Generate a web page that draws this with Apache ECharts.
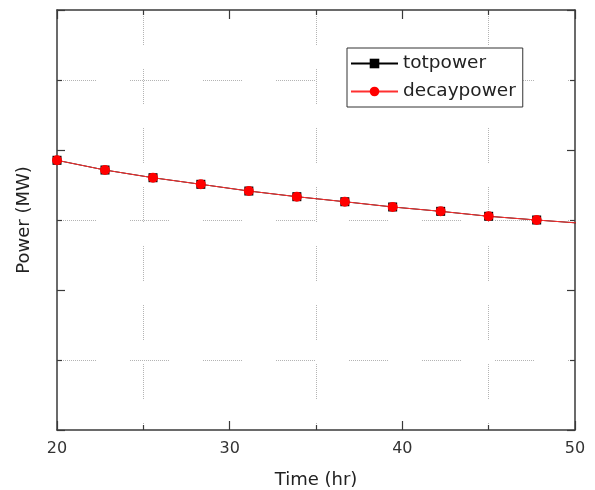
<!DOCTYPE html>
<html>
<head>
<meta charset="utf-8">
<script src="https://cdn.jsdelivr.net/npm/echarts@6/dist/echarts.min.js"></script>
<style>
html,body{margin:0;padding:0;background:#fff;}
#main{width:595px;height:490px;}
</style>
</head>
<body>
<div id="main"></div>
<script>
// ---- data ----
var timeHr = [20, 22.78, 25.56, 28.33, 31.11, 33.89, 36.67, 39.44, 42.22, 45, 47.78, 50.56];
var totpower = [3.853, 3.714, 3.604, 3.510, 3.414, 3.333, 3.261, 3.186, 3.124, 3.053, 3.000, 2.950];
var decaypower = [3.853, 3.714, 3.604, 3.510, 3.414, 3.333, 3.261, 3.186, 3.124, 3.053, 3.000, 2.950];
var seriesNames = ['totpower', 'decaypower'];
var xTickLabels = ['20', '30', '40', '50'];
var xName = 'Time (hr)';
var yName = 'Power (MW)';

function pairs(xs, ys) { return xs.map(function (x, i) { return [x, ys[i]]; }); }

// dotted-segment dash pattern (style only)
function dottedSegments(segLen, gapLen) {
  var arr = [];
  for (var i = 0; i < segLen / 2; i++) { arr.push(1, 1); }
  arr[arr.length - 1] = gapLen;
  return arr;
}

var FONT = 'DejaVu Sans';
var frameColor = '#3a3a3a';
var gridColor = '#b4b4b4';

var chart = echarts.init(document.getElementById('main'), null, {renderer: 'canvas'});

function xAxisBase(pos, showLabels) {
  return {
    type: 'value', position: pos, min: 20, max: 50, interval: 10,
    axisLine: {show: true, onZero: false, lineStyle: {color: frameColor, width: 1.5}},
    axisTick: {show: true, inside: true, length: 9, lineStyle: {color: frameColor, width: 1.2}},
    minorTick: {show: true, splitNumber: 2, length: 5, lineStyle: {color: frameColor, width: 1.2}},
    splitLine: {show: false},
    minorSplitLine: {show: showLabels, lineStyle: {color: gridColor, width: 1, type: dottedSegments(36, 24)}},
    axisLabel: {
      show: showLabels, margin: 11, fontFamily: FONT, fontSize: 16, color: '#333',
      formatter: function (v) { var s = String(v); return xTickLabels.indexOf(s) >= 0 ? s : ''; }
    },
    name: showLabels ? xName : '', nameLocation: 'middle', nameGap: 41,
    nameTextStyle: {fontFamily: FONT, fontSize: 18, color: '#222'}
  };
}
function yAxisBase(pos, showGrid) {
  return {
    type: 'value', position: pos, min: 0, max: 6, interval: 2,
    axisLine: {show: true, onZero: false, lineStyle: {color: frameColor, width: 1.5}},
    axisTick: {show: true, inside: true, length: 8, lineStyle: {color: frameColor, width: 1.2}},
    minorTick: {show: true, splitNumber: 2, length: 5, lineStyle: {color: frameColor, width: 1.2}},
    splitLine: {show: false},
    minorSplitLine: {show: showGrid, lineStyle: {color: gridColor, width: 1, type: dottedSegments(40, 34)}},
    axisLabel: {show: false},
    name: showGrid ? yName : '', nameLocation: 'middle', nameGap: 24,
    nameTextStyle: {fontFamily: FONT, fontSize: 18, color: '#222'}
  };
}

var option = {
  animation: false,
  backgroundColor: '#fff',
  grid: {left: 57, right: 20, top: 10, bottom: 60, containLabel: false, outerBoundsMode: 'none'},
  legend: {
    orient: 'vertical', left: 347, top: 48,
    backgroundColor: '#fff', borderColor: '#333', borderWidth: 1,
    padding: [6, 7, 6, 3], itemGap: 9, itemWidth: 47, itemHeight: 12,
    textStyle: {fontFamily: FONT, fontSize: 18.5, color: '#222'},
    data: seriesNames
  },
  xAxis: [xAxisBase('bottom', true), xAxisBase('top', false)],
  yAxis: [yAxisBase('left', true), yAxisBase('right', false)],
  series: [
    {
      name: seriesNames[0], type: 'line', xAxisIndex: 0, yAxisIndex: 0,
      data: pairs(timeHr, totpower), clip: true,
      symbol: 'rect', symbolSize: 9, showAllSymbol: true,
      lineStyle: {color: '#000', width: 1}, itemStyle: {color: '#000'}
    },
    {
      name: seriesNames[1], type: 'line', xAxisIndex: 0, yAxisIndex: 0,
      data: pairs(timeHr, decaypower), clip: true,
      symbol: 'circle', symbolSize: 10, showAllSymbol: true,
      lineStyle: {color: '#ff3030', width: 1}, itemStyle: {color: '#ff0000'}
    }
  ]
};
chart.setOption(option);
</script>
</body>
</html>
